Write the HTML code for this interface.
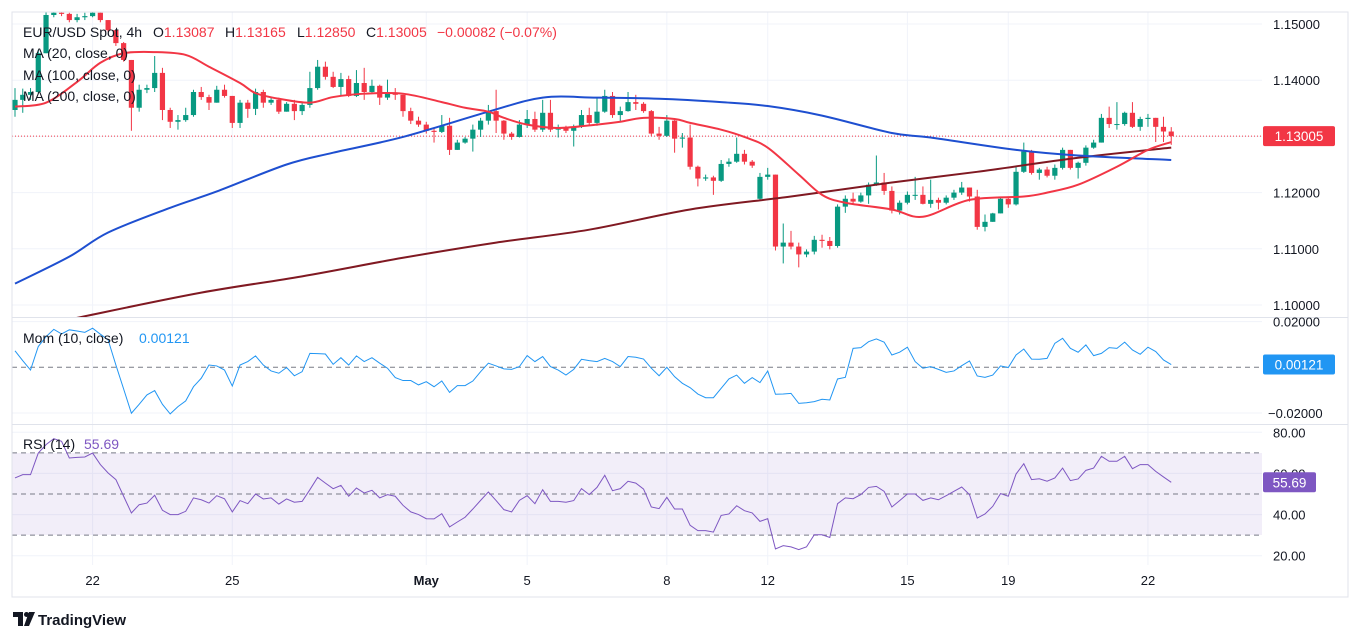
<!DOCTYPE html>
<html><head><meta charset="utf-8"><style>
html,body{margin:0;padding:0;background:#fff;width:1356px;height:641px;overflow:hidden}
svg{display:block;font-family:"Liberation Sans",sans-serif}
</style></head><body>
<svg id="chart" width="1356" height="641" viewBox="0 0 1356 641" xmlns="http://www.w3.org/2000/svg">
<defs>
<clipPath id="clipMain"><rect x="12" y="12" width="1250" height="305"/></clipPath>
<clipPath id="clipMom"><rect x="12" y="318" width="1250" height="106"/></clipPath>
<clipPath id="clipRsi"><rect x="12" y="425" width="1250" height="140"/></clipPath>
</defs>
<g id="grid"></g>
<rect x="12" y="453" width="1250" height="82" fill="rgba(126,87,194,0.1)"/>
<g id="guides"></g>
<g id="candles" clip-path="url(#clipMain)"></g>
<g id="mas" clip-path="url(#clipMain)"></g>
<g id="mom" clip-path="url(#clipMom)"></g>
<g id="rsi" clip-path="url(#clipRsi)"></g>
<g id="frame" stroke="#e0e3eb" fill="none">
<rect x="12" y="12" width="1336" height="585"/>
<line x1="12" y1="317.5" x2="1348" y2="317.5"/>
<line x1="12" y1="424.5" x2="1348" y2="424.5"/>
</g>
<g id="axes" font-size="13" fill="#131722"></g>
<g font-size="14" fill="#131722">
<text x="23" y="37">EUR/USD Spot, 4h</text>
<text x="153" y="37">O<tspan fill="#f23645">1.13087</tspan></text>
<text x="225" y="37">H<tspan fill="#f23645">1.13165</tspan></text>
<text x="297" y="37">L<tspan fill="#f23645">1.12850</tspan></text>
<text x="366" y="37">C<tspan fill="#f23645">1.13005</tspan></text>
<text x="437" y="37" fill="#f23645">−0.00082 (−0.07%)</text>
<text x="23" y="58">MA (20, close, 0)</text>
<text x="23" y="80">MA (100, close, 0)</text>
<text x="23" y="101">MA (200, close, 0)</text>
</g>
<g font-size="14">
<text x="23" y="343" fill="#131722">Mom (10, close)</text>
<text x="139" y="343" fill="#2196f3">0.00121</text>
</g>
<g font-size="14">
<text x="23" y="449" fill="#131722">RSI (14)</text>
<text x="84" y="449" fill="#7e57c2">55.69</text>
</g>
<g>
<path d="M13 612h10v14h-5v-9h-5z" fill="#131722"/>
<circle cx="26.5" cy="614.5" r="2.5" fill="#131722"/>
<path d="M29 612h6l-6 14h-5z" fill="#131722"/>
<text x="38" y="625" font-size="15" font-weight="bold" fill="#131722">TradingView</text>
</g>
</svg>
<script>
const firstOpen = 1.1347;
const gapOpenIndex = 96;
const gapOpenValue = 1.1189;
const closes = [
1.1365,1.1374,1.1379,1.1448,1.1516,1.1520,1.1518,1.1507,1.1512,1.1514,
1.1520,1.1507,1.1489,1.1466,1.1436,1.1351,1.1383,1.1386,1.1413,1.1347,
1.1326,1.1329,1.1338,1.1379,1.1370,1.1360,1.1383,1.1372,1.1324,1.1360,
1.1349,1.1379,1.1360,1.1365,1.1344,1.1358,1.1345,1.1356,1.1386,1.1424,
1.1406,1.1388,1.1402,1.1372,1.1395,1.1379,1.1390,1.1369,1.1377,1.1374,
1.1345,1.1328,1.1321,1.1310,1.1308,1.1319,1.1276,1.1289,1.1296,1.1312,
1.1328,1.1345,1.1328,1.1305,1.1299,1.1321,1.1331,1.1312,1.1342,1.1312,
1.1315,1.1310,1.1317,1.1338,1.1324,1.1344,1.1372,1.1338,1.1345,1.1361,
1.1358,1.1345,1.1305,1.1301,1.1328,1.1296,1.1298,1.1246,1.1225,1.1227,
1.1221,1.1251,1.1255,1.1269,1.1255,1.1248,1.1228,1.1232,1.1104,1.1111,
1.1104,1.1090,1.1095,1.1116,1.1114,1.1105,1.1175,1.1189,1.1184,1.1195,
1.1214,1.1218,1.1203,1.1168,1.1182,1.1196,1.1196,1.1180,1.1187,1.1182,
1.1191,1.1200,1.1209,1.1193,1.1139,1.1148,1.1163,1.1189,1.1179,1.1237,
1.1273,1.1235,1.1241,1.1230,1.1244,1.1276,1.1244,1.1253,1.1280,1.1289,
1.1333,1.1322,1.1322,1.1342,1.1317,1.1331,1.1333,1.1317,1.13087,1.13005];
const highs = [
1.1386,1.1385,1.1386,1.1454,1.1521,1.1522,1.1522,1.1520,1.1518,1.1520,
1.1522,1.1520,1.1507,1.1489,1.1468,1.1436,1.1392,1.1392,1.1443,1.1422,
1.1351,1.1338,1.1351,1.1383,1.1388,1.1374,1.1390,1.1392,1.1372,1.1365,
1.1365,1.1385,1.1383,1.1370,1.1369,1.1361,1.1365,1.1361,1.1415,1.1436,
1.1433,1.1415,1.1413,1.1408,1.1418,1.1422,1.1401,1.1392,1.1401,1.1386,
1.1374,1.1351,1.1335,1.1326,1.1315,1.1338,1.1333,1.1294,1.1299,1.1321,
1.1333,1.1356,1.1383,1.1329,1.1308,1.1329,1.1347,1.1344,1.1365,1.1365,
1.1321,1.1319,1.1321,1.1347,1.1351,1.1369,1.1383,1.1379,1.1353,1.1379,
1.1374,1.1361,1.1347,1.1317,1.1338,1.1329,1.1306,1.1321,1.1248,1.1232,
1.1230,1.1258,1.1261,1.1298,1.1276,1.1258,1.1235,1.1244,1.1232,1.1145,
1.1132,1.1111,1.1099,1.1123,1.1125,1.1121,1.1179,1.1195,1.1200,1.1200,
1.1218,1.1266,1.1235,1.1211,1.1186,1.1202,1.1228,1.1211,1.1223,1.1191,
1.1195,1.1205,1.1219,1.1209,1.1205,1.1161,1.1164,1.1193,1.1191,1.1246,
1.1289,1.1276,1.1244,1.1246,1.1250,1.1280,1.1276,1.1255,1.1284,1.1294,
1.1340,1.1353,1.1361,1.1344,1.1361,1.1335,1.1340,1.1333,1.1335,1.13165];
const lows = [
1.1335,1.1342,1.1365,1.1377,1.1448,1.1512,1.1514,1.1503,1.1503,1.1507,
1.1512,1.1503,1.1486,1.1461,1.1433,1.1310,1.1344,1.1377,1.1379,1.1329,
1.1315,1.1312,1.1326,1.1335,1.1365,1.1347,1.1360,1.1369,1.1315,1.1315,
1.1333,1.1338,1.1351,1.1356,1.1340,1.1344,1.1329,1.1338,1.1351,1.1383,
1.1401,1.1386,1.1372,1.1370,1.1370,1.1365,1.1377,1.1356,1.1365,1.1365,
1.1335,1.1322,1.1317,1.1305,1.1289,1.1306,1.1267,1.1276,1.1287,1.1273,
1.1299,1.1321,1.1306,1.1294,1.1294,1.1298,1.1315,1.1308,1.1308,1.1308,
1.1298,1.1306,1.1282,1.1315,1.1321,1.1319,1.1342,1.1333,1.1326,1.1344,
1.1347,1.1342,1.1301,1.1294,1.1299,1.1271,1.1280,1.1241,1.1211,1.1221,
1.1196,1.1219,1.1246,1.1253,1.1250,1.1244,1.1187,1.1223,1.1097,1.1074,
1.1099,1.1067,1.1085,1.1090,1.1102,1.1099,1.1102,1.1164,1.1180,1.1182,
1.1180,1.1212,1.1196,1.1163,1.1161,1.1179,1.1187,1.1179,1.1173,1.1170,
1.1179,1.1187,1.1196,1.1184,1.1134,1.1131,1.1148,1.1175,1.1173,1.1177,
1.1235,1.1232,1.1223,1.1227,1.1223,1.1241,1.1241,1.1225,1.1248,1.1278,
1.1289,1.1315,1.1312,1.1319,1.1315,1.1310,1.1317,1.1290,1.1290,1.12850];
const ma20Idx = [0,4,8,11,14,18,22,25,29,31,34,38,41,45,50,55,58,61,63,66,70,75,78,81,85,87,91,94,97,101,104,107,113,117,123,130,133,137,142,146,149];
const ma20Val = [1.1353,1.1360,1.1397,1.1431,1.1448,1.1450,1.1445,1.1424,1.1395,1.1377,1.1367,1.1360,1.1370,1.1376,1.1376,1.1361,1.1351,1.1344,1.1333,1.1321,1.1315,1.1321,1.1326,1.1333,1.1331,1.1324,1.1312,1.1299,1.1280,1.1232,1.1196,1.1182,1.1170,1.1157,1.1187,1.1193,1.1200,1.1214,1.1246,1.1276,1.1290];
const ma100Idx = [0,7,12,20,26,35,41,50,61,68,75,83,91,97,104,113,118,129,137,149];
const ma100Val = [1.1038,1.1086,1.1129,1.1173,1.1202,1.1250,1.1271,1.1299,1.1344,1.1369,1.1369,1.1367,1.1361,1.1354,1.1337,1.1306,1.1298,1.1276,1.1266,1.1258];
const ma200Idx = [0,9,24,37,50,62,74,87,100,113,124,137,149];
const ma200Val = [1.0953,1.0980,1.1022,1.1051,1.1084,1.1111,1.1134,1.1170,1.1193,1.1218,1.1237,1.1262,1.1280];
const mom = [
0.0072,0.0029,-0.0012,0.0091,0.0134,0.0166,0.0146,0.0164,0.0159,0.0153,
0.0171,0.0145,0.0120,0.0010,-0.0095,-0.0201,-0.0162,-0.0121,-0.0102,-0.0162,
-0.0204,-0.0172,-0.0147,-0.0085,-0.0048,0.0010,0.0006,-0.0012,-0.0082,0.0010,
0.0025,0.0050,0.0010,-0.0016,-0.0026,-0.0001,-0.0037,-0.0019,0.0061,0.0060,
0.0058,0.0013,0.0042,0.0010,0.0050,0.0025,0.0042,0.0018,-0.0004,-0.0045,
-0.0058,-0.0058,-0.0077,-0.0063,-0.0085,-0.0060,-0.0110,-0.0080,-0.0080,-0.0060,
-0.0019,0.0018,0.0006,-0.0007,-0.0009,0.0003,0.0051,0.0025,0.0047,0.0003,
-0.0012,-0.0034,-0.0009,0.0035,0.0029,0.0025,0.0039,0.0025,0.0003,0.0047,
0.0044,0.0036,-0.0004,-0.0037,0.0000,-0.0041,-0.0070,-0.0089,-0.0117,-0.0133,
-0.0133,-0.0092,-0.0051,-0.0034,-0.0070,-0.0045,-0.0067,-0.0016,-0.0118,-0.0117,
-0.0114,-0.0158,-0.0155,-0.0150,-0.0140,-0.0143,-0.0051,-0.0044,0.0083,0.0086,
0.0112,0.0124,0.0110,0.0054,0.0066,0.0088,0.0025,-0.0004,0.0003,-0.0009,
-0.0022,-0.0016,0.0007,0.0028,-0.0038,-0.0044,-0.0034,0.0006,-0.0001,0.0054,
0.0080,0.0036,0.0035,0.0039,0.0105,0.0127,0.0083,0.0066,0.0098,0.0051,
0.0061,0.0086,0.0083,0.0110,0.0076,0.0057,0.0088,0.0069,0.0032,0.00121];
const rsi = [
57.8,59.4,59.4,69.9,74.0,76.9,75.6,67.5,67.8,68.0,
69.9,64.3,60.2,57.0,48.9,40.8,44.8,45.6,49.4,42.1,
40.0,40.0,41.6,48.1,47.2,45.6,49.2,47.7,41.3,46.8,
45.3,50.0,47.6,48.1,45.1,47.6,46.0,46.4,52.1,58.1,
55.3,52.6,54.2,48.9,52.9,50.5,51.8,48.1,49.7,48.9,
44.5,41.3,40.0,38.0,37.9,40.4,34.0,36.4,38.7,42.7,
46.9,51.0,46.8,42.4,41.3,46.9,49.2,45.3,52.1,46.4,
46.4,46.0,46.8,52.6,49.7,53.2,59.1,51.6,52.6,56.2,
55.3,52.4,43.7,42.9,48.4,42.7,42.7,34.8,32.2,32.2,
31.5,39.6,40.3,44.3,41.9,40.8,36.7,38.0,23.3,24.9,
24.3,23.0,24.3,30.2,30.2,28.9,45.3,48.1,47.7,49.7,
53.2,53.7,51.3,43.7,46.8,50.0,50.0,46.9,48.1,47.2,
49.2,51.3,53.4,49.7,38.3,40.3,44.0,50.2,48.9,59.7,
64.7,57.0,57.4,56.2,57.8,62.6,56.5,57.3,61.5,62.6,
68.3,65.9,65.9,68.3,62.3,64.3,64.3,61.0,58.3,55.69];
const priceTicks = [1.15,1.14,1.13,1.12,1.11,1.10];
const priceTickLabels = ["1.15000","1.14000","","1.12000","1.11000","1.10000"];
const momTicks = [0.02,-0.02];
const momTickLabels = ["0.02000","−0.02000"];
const rsiTicks = [80,60,40,20];
const rsiTickLabels = ["80.00","60.00","40.00","20.00"];
const dateIdx = [10,28,53,66,84,97,115,128,146];
const dateLabels = ["22","25","May","5","8","12","15","19","22"];
const lastPriceLabel = "1.13005";
const lastMomLabel = "0.00121";
const lastRsiLabel = "55.69";

const NS = "http://www.w3.org/2000/svg";
const X0 = 15, DX = 7.76, PLOT_R = 1262;
const xAt = i => X0 + i * DX;
const yPrice = p => 24 + (1.15 - p) * 5620;
const yMom = v => 367.3 - v * (45.7 / 0.02);
const yRsi = v => 494 - (v - 50) * 2.058;
function mk(tag, attrs, parent) {
  const e = document.createElementNS(NS, tag);
  for (const k in attrs) e.setAttribute(k, attrs[k]);
  parent.appendChild(e);
  return e;
}
const grid = document.getElementById('grid');
const axes = document.getElementById('axes');
const guides = document.getElementById('guides');

// vertical grid + date labels
dateIdx.forEach((idx, k) => {
  const x = xAt(idx);
  const l = mk('line', {x1: x, y1: 12, x2: x, y2: 565, stroke: '#f0f3fa'}, grid);
  
  
  const t = mk('text', {x: x, y: 585, 'text-anchor': 'middle', 'font-weight': dateLabels[k] === 'May' ? 'bold' : 'normal'}, axes);
  t.textContent = dateLabels[k];
  
  
});
// price grid + labels
priceTicks.forEach((p, k) => {
  const y = yPrice(p);
  const l = mk('line', {x1: 12, y1: y, x2: PLOT_R, y2: y, stroke: '#f0f3fa'}, grid);
  
  
  if (priceTickLabels[k]) {
    const t = mk('text', {x: 1273, y: y + 5}, axes);
    t.textContent = priceTickLabels[k];
    
    
  }
});
momTicks.forEach((v, k) => {
  const y = yMom(v);
  const l = mk('line', {x1: 12, y1: y, x2: PLOT_R, y2: y, stroke: '#f0f3fa'}, grid);
  
  
  const t = mk('text', {x: v < 0 ? 1268 : 1273, y: y + 5}, axes);
  t.textContent = momTickLabels[k];
  
  
});
rsiTicks.forEach((v, k) => {
  const y = yRsi(v);
  const l = mk('line', {x1: 12, y1: y, x2: PLOT_R, y2: y, stroke: '#f0f3fa'}, grid);
  
  
  const t = mk('text', {x: 1273, y: y + 5}, axes);
  t.textContent = rsiTickLabels[k];
  
  
});
// dashed guides
[[yMom(0), 'mom-zero-line'], [yRsi(70), 'rsi-upper-band'], [yRsi(50), 'rsi-middle-band'], [yRsi(30), 'rsi-lower-band']].forEach(([y, n]) => {
  const l = mk('line', {x1: 12, y1: y, x2: PLOT_R, y2: y, stroke: '#787b86', 'stroke-dasharray': '5,4'}, guides);
  
  
});
// price line
const pl = mk('line', {x1: 12, y1: yPrice(closes[closes.length - 1]), x2: PLOT_R, y2: yPrice(closes[closes.length - 1]), stroke: '#f23645', 'stroke-dasharray': '1,2'}, guides);



// candles
const cg = document.getElementById('candles');
closes.forEach((c, i) => {
  const o = i === 0 ? firstOpen : (i === gapOpenIndex ? gapOpenValue : closes[i - 1]);
  const h = Math.max(highs[i], o, c), lo = Math.min(lows[i], o, c);
  const col = c >= o ? '#089981' : '#f23645';
  const x = xAt(i);
  const g = mk('g', {}, cg);
  
  
  mk('line', {x1: x, y1: yPrice(h), x2: x, y2: yPrice(lo), stroke: col, 'stroke-width': 1}, g);
  const yt = yPrice(Math.max(o, c)), yb = yPrice(Math.min(o, c));
  mk('rect', {x: x - 2.6, y: yt, width: 5.2, height: Math.max(1, yb - yt), fill: col}, g);
});

// smooth line helper (Catmull-Rom)
function smoothPath(pts) {
  let d = 'M' + pts[0][0] + ' ' + pts[0][1];
  for (let i = 0; i < pts.length - 1; i++) {
    const p0 = pts[i - 1] || pts[i], p1 = pts[i], p2 = pts[i + 1], p3 = pts[i + 2] || p2;
    const c1x = p1[0] + (p2[0] - p0[0]) / 6, c1y = p1[1] + (p2[1] - p0[1]) / 6;
    const c2x = p2[0] - (p3[0] - p1[0]) / 6, c2y = p2[1] - (p3[1] - p1[1]) / 6;
    d += ' C' + c1x + ' ' + c1y + ' ' + c2x + ' ' + c2y + ' ' + p2[0] + ' ' + p2[1];
  }
  return d;
}
const mg = document.getElementById('mas');
[[ma200Idx, ma200Val, '#801922', 'ma200-line'], [ma100Idx, ma100Val, '#1e4fd0', 'ma100-line'], [ma20Idx, ma20Val, '#f23645', 'ma20-line']].forEach(([ix, vals, col, n]) => {
  const pts = ix.map((i, k) => [xAt(i), yPrice(vals[k])]);
  const p = mk('path', {d: smoothPath(pts), fill: 'none', stroke: col, 'stroke-width': 2, 'stroke-linejoin': 'round'}, mg);
  
  
});
// momentum
const momLine = mk('polyline', {points: mom.map((v, i) => xAt(i) + ',' + yMom(v)).join(' '), fill: 'none', stroke: '#2196f3', 'stroke-width': 1}, document.getElementById('mom'));


// rsi
const rsiLine = mk('polyline', {points: rsi.map((v, i) => xAt(i) + ',' + yRsi(v)).join(' '), fill: 'none', stroke: '#7e57c2', 'stroke-width': 1}, document.getElementById('rsi'));



// value badges
function badge(y, w, col, txt, name) {
  const g = mk('g', {}, axes);
  
  
  mk('rect', {x: 1263, y: y - 10, width: w, height: 20, rx: 2, fill: col}, g);
  const t = mk('text', {x: 1263 + w / 2, y: y + 5, 'text-anchor': 'middle', fill: '#fff', 'font-size': 13.5}, g);
  t.textContent = txt;
}
badge(yPrice(closes[closes.length - 1]), 72, '#f23645', lastPriceLabel, 'last-price-badge');
badge(yMom(mom[mom.length - 1]), 72, '#2196f3', lastMomLabel, 'mom-value-badge');
badge(yRsi(rsi[rsi.length - 1]), 53, '#7e57c2', lastRsiLabel, 'rsi-value-badge');
</script>
</body></html>
